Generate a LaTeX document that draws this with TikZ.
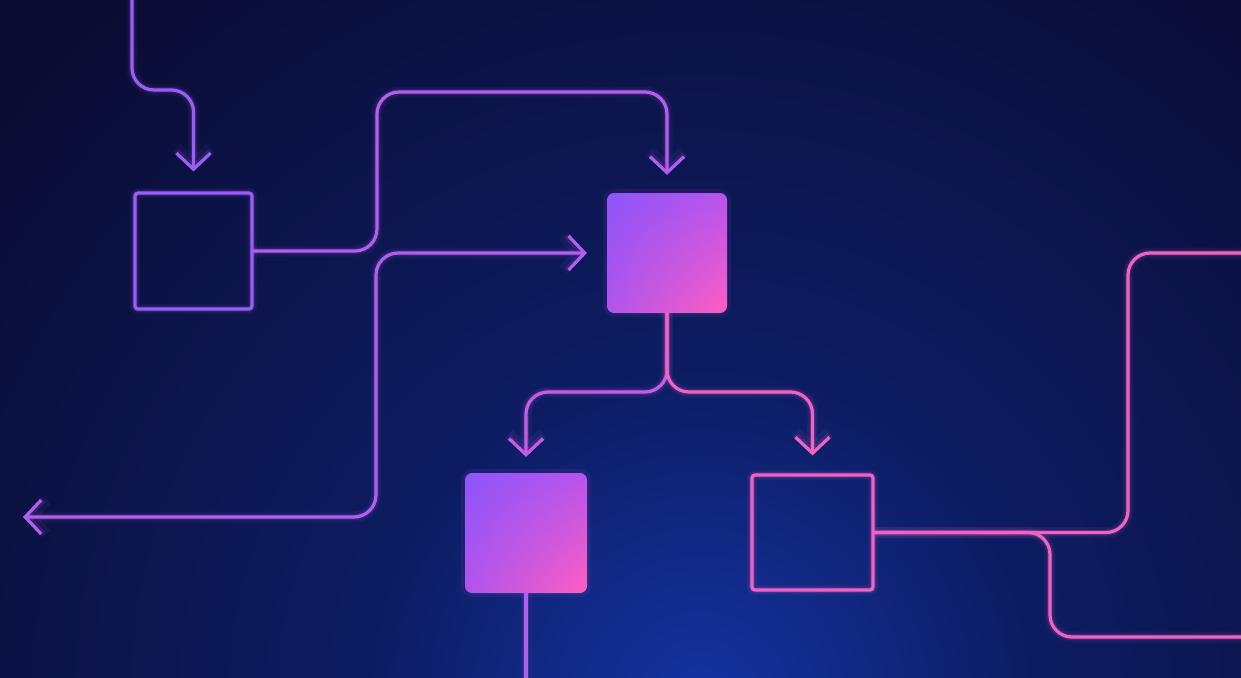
\documentclass[tikz,border=0pt]{standalone}
\usetikzlibrary{arrows.meta,shadings}
\definecolor{bgzero}{HTML}{0A0C32}
\definecolor{bgmid}{HTML}{0D1C62}
\definecolor{bgone}{HTML}{1434A2}
\definecolor{cviolet}{HTML}{9C5CF6}
\definecolor{cvpink}{HTML}{B25EEE}
\definecolor{cmag}{HTML}{C65EE4}
\definecolor{cpink}{HTML}{F262C2}
\definecolor{gul}{HTML}{8E55FA}
\definecolor{gur}{HTML}{B854EC}
\definecolor{gll}{HTML}{B054EC}
\definecolor{glr}{HTML}{FF5EC2}
\pgfdeclareradialshading{bgglow}{\pgfpoint{0bp}{0bp}}{color(0bp)=(bgone); color(9bp)=(bgmid); color(25bp)=(bgzero); color(50bp)=(bgzero)}
\tikzset{
  wire/.style={line width=3.2pt, line cap=round, line join=round, draw=#1,
    rounded corners=22pt,
    preaction={draw=#1, line width=11pt, opacity=0.07},
    preaction={draw=#1, line width=6pt, opacity=0.14}},
  outlinebox/.style={draw=#1, line width=3.2pt, rounded corners=3pt, inner sep=0pt,
    preaction={draw=#1, line width=10pt, opacity=0.07},
    preaction={draw=#1, line width=6pt, opacity=0.14}},
  filledbox/.style={rounded corners=7pt, inner sep=0pt,
    upper left=gul, upper right=gur, lower left=gll, lower right=glr,
    preaction={draw=cmag, line width=8pt, opacity=0.08}},
  >={Straight Barb[length=16pt,width=34pt]}
}
\begin{document}
\begin{tikzpicture}[x=1pt,y=-1pt]
\useasboundingbox (0,0) rectangle (1241,677);
\clip (0,0) rectangle (1241,677);
\fill[bgzero] (0,0) rectangle (1241,677);
\shade[shading=bgglow] (700,700) circle (920);
% boxes
\node[outlinebox=cviolet, minimum width=117pt, minimum height=116pt] (A) at (193.5,251) {};
\node[filledbox, minimum width=120pt, minimum height=120pt] (B) at (667,253) {};
\node[filledbox, minimum width=122pt, minimum height=120pt] (C) at (526,533) {};
\node[outlinebox=cpink, minimum width=121pt, minimum height=115pt] (D) at (812.5,532.5) {};
% free ends
\coordinate (topin) at (132,-10);
\coordinate (leftout) at (23,517);
\coordinate (bottomout) at (526,690);
\coordinate (rightoutA) at (1260,253);
\coordinate (rightoutB) at (1260,637);
% connectors
\draw[wire=cviolet, ->, shorten >=20pt] (topin) -- (132,90) -| (A.north);
\draw[wire=cvpink, ->, shorten >=18pt] (A.east) -| (377,92) -| (B.north);
\draw[wire=cvpink, <->, shorten >=20pt] (leftout) -| (376,253) -- (B.west);
\draw[wire=cmag, ->, shorten >=16pt] (B.south) -- (667,392) -| (C.north);
\draw[wire=cpink, ->, shorten >=18pt] (B.south) -- (667,392) -| (D.north);
\draw[wire=cvpink] (C.south) -- (bottomout);
\draw[wire=cpink] (D.east) -| (1128,253) -- (rightoutA);
\draw[wire=cpink] (D.east) -| (1050,637) -- (rightoutB);
\end{tikzpicture}
\end{document}
